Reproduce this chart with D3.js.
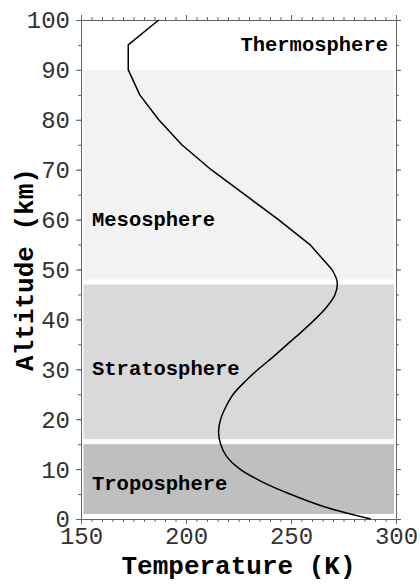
<!DOCTYPE html>
<html>
<head>
<meta charset="utf-8">
<script src="https://cdnjs.cloudflare.com/ajax/libs/d3/7.8.5/d3.min.js"></script>
<style>
  body { margin: 0; background: #fff; }
  .tick text { font-family: "Courier New", Courier, "Liberation Mono", monospace; }
</style>
</head>
<body>
<div id="chart"></div>
<script>
// temperature profile
var altitude = [0, 2.5, 5, 7.5, 10, 12.5, 15, 17.5, 20, 22.5, 25, 27.5, 30, 32.5, 35, 37.5, 40, 42.5, 45, 47.5, 50, 55, 60, 65, 70, 75, 80, 85, 90, 95, 100];
var temperature = [288, 265.5, 249.5, 236, 225.7, 219.4, 216.5, 215.5, 216.5, 219, 222.5, 228, 234.4, 241.5, 248.2, 255, 261.4, 267, 271, 272, 269.5, 259, 244, 228, 212, 198, 187, 178, 172.5, 172.5, 187];

// atmosphere layers (km)
var layerNames = ["Troposphere", "Stratosphere", "Mesosphere", "Thermosphere"];
var layerBottom = [1, 16, 48, 90];
var layerTop = [15, 47, 90, 100];
var layerFill = ["#bfbfbf", "#d9d9d9", "#f2f2f2", "none"];
var labelAlt = [7, 30, 60, 95];

var xTicks = [150, 200, 250, 300];
var yTicks = [0, 10, 20, 30, 40, 50, 60, 70, 80, 90, 100];

var width = 420, height = 584;
var plotL = 81, plotR = 396, plotT = 20, plotB = 519;
var axisColor = "#666";
var mono = '"Courier New", Courier, "Liberation Mono", monospace';

var svg = d3.select("#chart").append("svg")
    .attr("width", width)
    .attr("height", height);

var x = d3.scaleLinear().domain([150, 300]).range([plotL, plotR]);
var y = d3.scaleLinear().domain([0, 100]).range([plotB, plotT]);

// bands
svg.append("g").selectAll("rect")
    .data(layerNames)
  .enter().append("rect")
    .attr("x", plotL + 2.5)
    .attr("width", plotR - plotL - 4.5)
    .attr("y", function(d, i) { return y(layerTop[i]); })
    .attr("height", function(d, i) { return y(layerBottom[i]) - y(layerTop[i]); })
    .attr("fill", function(d, i) { return layerFill[i]; });

// band labels
svg.append("g").selectAll("text")
    .data(layerNames)
  .enter().append("text")
    .attr("x", function(d, i) { return i == 3 ? plotR - 8 : plotL + 11; })
    .attr("y", function(d, i) { return y(labelAlt[i]); })
    .attr("dy", "0.3em")
    .attr("text-anchor", function(d, i) { return i == 3 ? "end" : "start"; })
    .style("font-family", mono)
    .style("font-weight", "bold")
    .style("font-size", "20.5px")
    .attr("fill", "#000")
    .text(function(d) { return d; });

function drawAxis(axis, tx, ty, labels) {
  var g = svg.append("g")
      .attr("transform", "translate(" + tx + "," + ty + ")")
      .call(axis);
  g.selectAll("path, line").attr("stroke", axisColor);
  g.selectAll("text")
      .attr("fill", "#333")
      .style("font-size", "24px");
  if (!labels) g.selectAll("text").remove();
  return g;
}

// minor ticks
drawAxis(d3.axisLeft(y).tickValues(d3.range(0, 101, 5)).tickSize(3).tickFormat(""), plotL, 0, false);
drawAxis(d3.axisRight(y).tickValues(d3.range(0, 101, 5)).tickSize(3).tickFormat(""), plotR, 0, false);
drawAxis(d3.axisBottom(x).tickValues(d3.range(150, 301, 5)).tickSize(3).tickFormat(""), 0, plotB, false);
drawAxis(d3.axisTop(x).tickValues(d3.range(150, 301, 5)).tickSize(3).tickFormat(""), 0, plotT, false);

// major ticks
var yl = drawAxis(d3.axisLeft(y).tickValues(yTicks).tickSize(5).tickPadding(6).tickFormat(d3.format("d")), plotL, 0, true);
yl.selectAll("text").attr("dy", "0.33em");
drawAxis(d3.axisRight(y).tickValues(yTicks).tickSize(5), plotR, 0, false);
drawAxis(d3.axisBottom(x).tickValues(xTicks).tickSize(5).tickPadding(3).tickFormat(d3.format("d")), 0, plotB, true);
drawAxis(d3.axisTop(x).tickValues(xTicks).tickSize(5), 0, plotT, false);

// profile line: smooth below 50 km, straight segments above
var idx = d3.range(altitude.length);
var lower = idx.filter(function(i) { return altitude[i] <= 50; });
var upper = idx.filter(function(i) { return altitude[i] >= 50; });

var smooth = d3.line()
    .x(function(i) { return x(temperature[i]); })
    .y(function(i) { return y(altitude[i]); })
    .curve(d3.curveCatmullRom.alpha(0.5));
var straight = d3.line()
    .x(function(i) { return x(temperature[i]); })
    .y(function(i) { return y(altitude[i]); })
    .curve(d3.curveLinear);

svg.append("g").selectAll("path")
    .data([[lower, smooth], [upper, straight]])
  .enter().append("path")
    .attr("fill", "none")
    .attr("stroke", "#000")
    .attr("stroke-width", 1.5)
    .attr("stroke-linejoin", "round")
    .attr("d", function(d) { return d[1](d[0]); });

// axis titles
svg.append("text")
    .attr("x", (plotL + plotR) / 2)
    .attr("y", 574)
    .attr("text-anchor", "middle")
    .style("font-family", mono)
    .style("font-weight", "bold")
    .style("font-size", "26px")
    .text("Temperature (K)");

svg.append("text")
    .attr("transform", "translate(33," + ((plotT + plotB) / 2) + ") rotate(-90)")
    .attr("text-anchor", "middle")
    .style("font-family", mono)
    .style("font-weight", "bold")
    .style("font-size", "26px")
    .text("Altitude (km)");
</script>
</body>
</html>
